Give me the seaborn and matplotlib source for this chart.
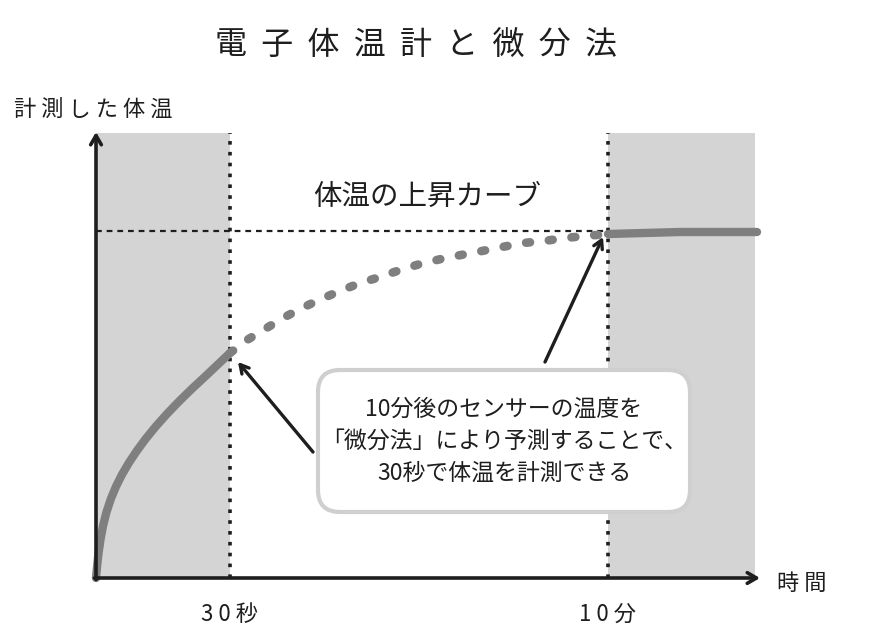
import numpy as np
import pandas as pd
import matplotlib
matplotlib.use("Agg")
import matplotlib.pyplot as plt
from matplotlib.patches import FancyBboxPatch, Rectangle
import seaborn as sns

# ---- data (chart units: time offset from origin, temperature rise above axis) ----
title = "電  子  体  温  計  と  微  分  法"
y_label = "計 測 し た 体 温"
x_label = "時 間"
curve_label = "体温の上昇カーブ"
callout_text = "10分後のセンサーの温度を\n「微分法」により予測することで、\n30秒で体温を計測できる"
tick_labels = ["3 0 秒", "1 0 分"]
tick_positions = [134, 512]          # 30 s, 10 min

measured_t = [0, 1, 2.5, 4.5, 7, 10.5, 15, 20, 26, 33, 41, 50, 60, 71, 83,
              96, 110, 134]
measured_v = [0, 11, 24.5, 38.5, 52, 66, 79.5, 91.5, 103.5, 115.4, 127.4,
              139.6, 151.8, 164.1, 176.6, 189.3, 202.3, 225]

predicted_t = [134, 151, 169, 187, 206, 225, 244, 264, 284, 304, 324, 345,
               365, 386, 406, 427, 448, 469, 489, 512]
predicted_v = [225, 238, 249, 260, 270, 279, 287, 295, 301, 308, 314, 319,
               323, 327, 331, 335, 337, 340, 342, 344]

final_t = [512, 584, 661]
final_v = [344, 346, 346]

final_level = 347
shade_spans = [(0, 134), (512, 659)]
axis_x_end = 664
axis_y_end = 446

sns.set_theme(style="white")
plt.rcParams['font.family'] = ['Noto Sans CJK JP', 'DejaVu Sans']

fig = plt.figure(figsize=(8.7, 6.37), dpi=100)
ax = fig.add_axes([0, 0, 1, 1])
ax.set_xlim(-96, 774)
ax.set_ylim(-59, 578)
ax.axis("off")

ink = "#1e1e1e"
gray_fill = "#d4d4d4"
curve_col = "#7f7f7f"

# shaded regions
for a, b in shade_spans:
    ax.add_patch(Rectangle((a, 0), b - a, axis_y_end - 1, facecolor=gray_fill,
                           edgecolor="none", zorder=0))

# vertical dotted guides
for xp in tick_positions:
    ax.plot([xp, xp], [0, axis_y_end - 1], color=ink, lw=2.6,
            linestyle=(0, (1.0, 2.0)), zorder=2)

# horizontal dashed level
ax.plot([0, tick_positions[1]], [final_level, final_level], color=ink, lw=1.6,
        linestyle=(0, (2.6, 2.2)), zorder=2)

# curves
df_meas = pd.DataFrame({"t": measured_t, "v": measured_v})
df_pred = pd.DataFrame({"t": predicted_t, "v": predicted_v})
df_fin = pd.DataFrame({"t": final_t, "v": final_v})

sns.lineplot(data=df_meas, x="t", y="v", ax=ax, color=curve_col, lw=6,
             sort=False, estimator=None, solid_capstyle="round",
             solid_joinstyle="round", zorder=3)
sns.lineplot(data=df_fin, x="t", y="v", ax=ax, color=curve_col, lw=6,
             sort=False, estimator=None, solid_capstyle="round", zorder=3)
sns.lineplot(data=df_pred, x="t", y="v", ax=ax, color=curve_col, lw=6.2,
             sort=False, estimator=None, linestyle=(0, (0.45, 2.2)),
             dash_capstyle="round", zorder=3)
ax.set_xlim(-96, 774)
ax.set_ylim(-59, 578)

# axes with arrows
ax.annotate("", xy=(axis_x_end, 0), xytext=(-1.5, 0),
            arrowprops=dict(arrowstyle="->,head_length=0.55,head_width=0.32",
                            lw=2.6, color=ink, shrinkA=0, shrinkB=0), zorder=5)
ax.annotate("", xy=(0, axis_y_end), xytext=(0, -1.5),
            arrowprops=dict(arrowstyle="->,head_length=0.55,head_width=0.32",
                            lw=2.6, color=ink, shrinkA=0, shrinkB=0), zorder=5)

# callout box
ax.add_patch(FancyBboxPatch((222, 66), 372, 142,
                            boxstyle="round,pad=0,rounding_size=22",
                            facecolor="white", edgecolor="#cfcfcf", lw=3,
                            zorder=4))
ax.text(408, 137, callout_text, ha="center", va="center", fontsize=16.5,
        color=ink, linespacing=1.5, zorder=6)

# arrows from callout
ax.annotate("", xy=(142, 216), xytext=(217, 126),
            arrowprops=dict(arrowstyle="->,head_length=0.5,head_width=0.28",
                            lw=2.4, color=ink, shrinkA=0, shrinkB=0), zorder=5)
ax.annotate("", xy=(507, 341), xytext=(449, 216),
            arrowprops=dict(arrowstyle="->,head_length=0.5,head_width=0.28",
                            lw=2.4, color=ink, shrinkA=0, shrinkB=0), zorder=5)

# texts
ax.text(320, 532, title, ha="center", va="center", fontsize=23, color=ink)
ax.text(-82, 469, y_label, ha="left", va="center", fontsize=16, color=ink)
ax.text(681, -5, x_label, ha="left", va="center", fontsize=16, color=ink)
ax.text(331, 381, curve_label, ha="center", va="center", fontsize=20.5, color=ink)
for xp, lab in zip(tick_positions, tick_labels):
    ax.text(xp, -36, lab, ha="center", va="center", fontsize=16, color=ink)

fig.savefig("out.png", dpi=100, facecolor="white")
